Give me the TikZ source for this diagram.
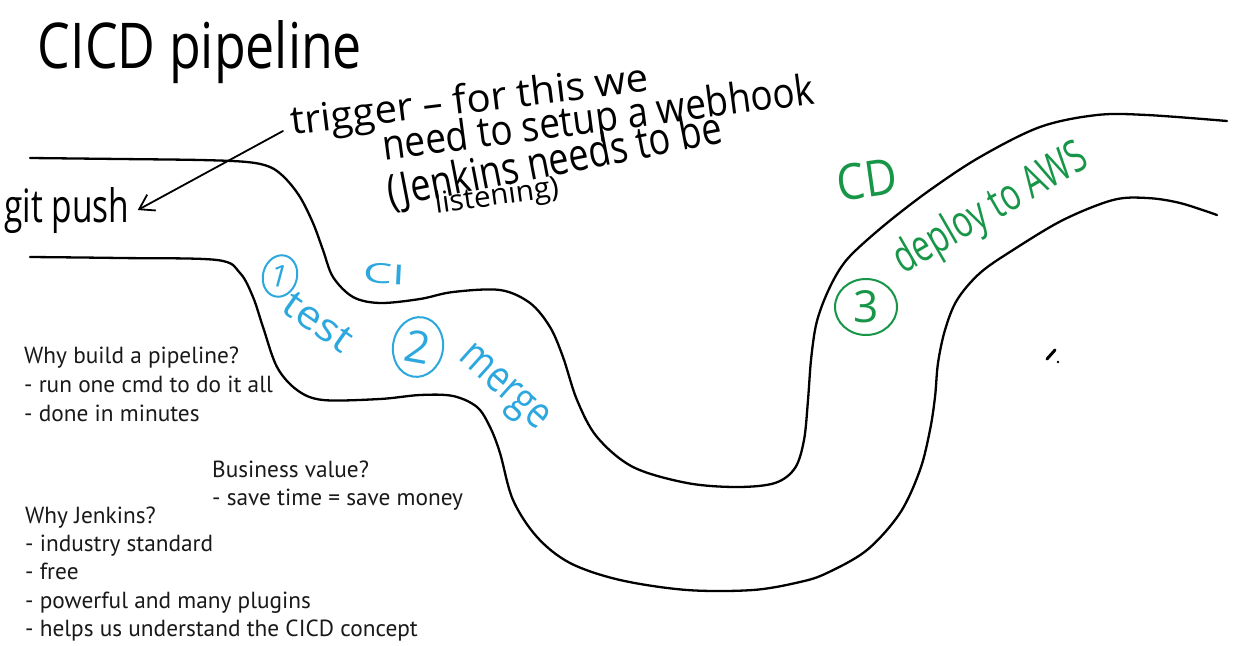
\documentclass[tikz,border=0pt]{standalone}
\usepackage{fontspec}
\usepackage{graphicx}
\usetikzlibrary{arrows.meta,shapes.geometric,calc}
\newfontfamily\printed{PT Sans}
\newfontfamily\hand{Open Sans}
\definecolor{hblue}{RGB}{45,168,222}
\definecolor{hgreen}{RGB}{24,150,72}
\tikzset{
  curve/.style={line width=2.3pt, line cap=round},
  handtxt/.style={inner sep=0pt, text=black, anchor=base},
  bluetxt/.style={inner sep=0pt, text=hblue},
  greentxt/.style={inner sep=0pt, text=hgreen},
  numring/.style={draw, ellipse, line width=2pt, inner sep=0pt},
  plain/.style={inner sep=0pt, anchor=base west, text=black!90, font=\printed\fontsize{23.3}{28}\selectfont},
}
\begin{document}
\begin{tikzpicture}[x=1pt,y=-1pt]
\useasboundingbox (0,0) rectangle (1244,645);
\fill[white] (0,0) rectangle (1244,645);

% road edges
\draw[curve] plot[smooth, tension=0.55] coordinates {(30,158) (120,159) (200,160) (247,162) (270,167) (285,178) (300,197) (313,223) (323,250) (333,277) (353,297) (380,303) (420,299) (453,292) (500,290) (530,303) (550,327) (563,357) (577,400) (597,437) (633,467) (687,483) (737,487) (775,483) (795,468) (804,440) (808,400) (811,360) (816,325) (825,298) (838,272) (853,253) (887,223) (930,190) (980,157) (1040,127) (1097,115) (1147,115) (1227,121)};
\draw[curve] plot[smooth, tension=0.55] coordinates {(30,257) (120,258) (217,260) (240,273) (253,297) (263,327) (277,367) (297,390) (323,400) (380,399) (420,395) (453,396) (477,407) (490,427) (500,453) (513,500) (537,537) (570,563) (620,580) (687,590) (753,590) (800,582) (827,573) (867,550) (900,513) (920,470) (930,430) (935,397) (938,363) (945,330) (957,300) (980,273) (1013,250) (1063,220) (1113,200) (1147,198) (1180,203) (1217,215)};

% handwritten notes
\node[handtxt] (title) at (200,68) {\resizebox{324pt}{48pt}{\hand CICD pipeline}};
\node[handtxt] (gitpush) at (67,222) {\resizebox{125pt}{35pt}{\hand git push}};
\node[handtxt, rotate=7] (trig) at (471,113) {\resizebox{360pt}{30pt}{\hand trigger – for this we}};
\node[handtxt, rotate=7.5] (hook) at (600,132) {\resizebox{435pt}{32pt}{\hand need to setup a webhook}};
\node[handtxt, rotate=11] (jenk) at (557,175) {\resizebox{340pt}{34pt}{\hand (Jenkins needs to be}};
\node[handtxt, rotate=8] (listen) at (498,205) {\resizebox{125pt}{22pt}{\hand listening)}};
\coordinate (arrS) at (283,131);
\draw[line width=1.8pt, line cap=round, -{Straight Barb[length=14pt,width=18pt,line width=1.8pt]}] (arrS) -- ([xshift=8pt]gitpush.east);

% CI stage
\node[bluetxt, rotate=-3] (ci) at (384,274) {\resizebox{42pt}{20pt}{\hand CI}};
\node[numring, draw=hblue, text=hblue, minimum width=34pt, minimum height=42pt, rotate=-15] (c1) at (280,276) {\resizebox{!}{22pt}{\hand 1}};
\node[bluetxt, rotate=-35] (test) at (318,322) {\resizebox{76pt}{26pt}{\hand test}};
\node[numring, draw=hblue, text=hblue, minimum width=50pt, minimum height=60pt, rotate=-10] (c2) at (418,347) {\resizebox{!}{32pt}{\hand 2}};
\node[bluetxt, rotate=-42] (merge) at (502,390) {\resizebox{108pt}{24pt}{\hand merge}};

% CD stage
\node[greentxt, rotate=8] (cd) at (867,180) {\resizebox{60pt}{36pt}{\hand CD}};
\node[numring, draw=hgreen, text=hgreen, minimum width=62pt, minimum height=56pt] (c3) at (866,307) {\resizebox{!}{32pt}{\hand 3}};
\node[greentxt, rotate=30, anchor=base] (deploy) at (997,220) {\resizebox{216pt}{34pt}{\hand deploy to AWS}};

% typed notes
\node[plain] (w1) at (24,363) {Why build a pipeline?};
\node[plain] (w2) at (24,392) {- run one cmd to do it all};
\node[plain] (w3) at (24,421) {- done in minutes};
\node[plain] (b1) at (212,477) {Business value?};
\node[plain] (b2) at (212,505) {- save time = save money};
\node[plain] (j1) at (25,523) {Why Jenkins?};
\node[plain] (j2) at (25,551) {- industry standard};
\node[plain] (j3) at (25,579) {- free};
\node[plain] (j4) at (25,608) {- powerful and many plugins};
\node[plain] (j5) at (25,636) {- helps us understand the CICD concept};

% pen cursor
\draw[line width=3pt, line cap=round] (1047,359) -- (1055,350);
\fill (1058,362) circle (1.4);
\end{tikzpicture}
\end{document}
